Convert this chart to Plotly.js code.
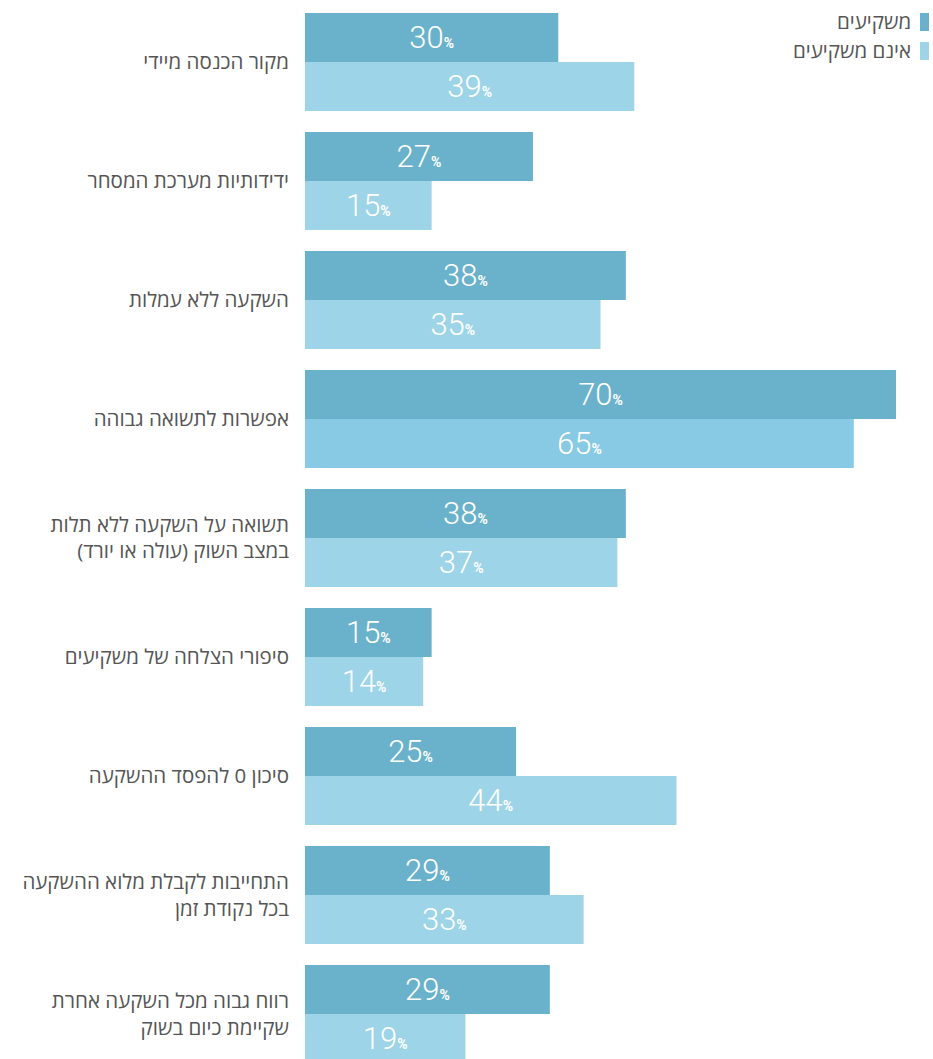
<!DOCTYPE html>
<html>
<head>
<meta charset="utf-8">
<script src="https://cdn.plot.ly/plotly-3.0.1.min.js"></script>
<style>html,body{margin:0;padding:0;background:#fff;}#chart{width:933px;height:1059px;}</style>
</head>
<body>
<div id="chart"></div>
<script>
// ---- data ----
const categories = [
  "מקור הכנסה מיידי",
  "ידידותיות מערכת המסחר",
  "השקעה ללא עמלות",
  "אפשרות לתשואה גבוהה",
  "תשואה על השקעה ללא תלות<br>במצב השוק (עולה או יורד)",
  "סיפורי הצלחה של משקיעים",
  "סיכון 0 להפסד ההשקעה",
  "התחייבות לקבלת מלוא ההשקעה<br>בכל נקודת זמן",
  "רווח גבוה מכל השקעה אחרת<br>שקיימת כיום בשוק"
];
const investors = [30, 27, 38, 70, 38, 15, 25, 29, 29];
const nonInvestors = [39, 15, 35, 65, 37, 14, 44, 33, 19];
const seriesNames = ["משקיעים", "אינם משקיעים"];

const darkColor = "#6ab2cb";
const lightColor = "#9dd4e8";
const lightColorHighlight = "#88c9e3";

const RLM = "\u200F";
const tickText = categories.map(c => c.split("<br>").map(l => RLM + l + RLM).join("<br>"));

const pctTemplate = '%{x}<span style="font-size:14px"><b>%</b></span>';
const numFont = {family: "Roboto, Lato, sans-serif", size: 31, color: "#ffffff", weight: 300};

const lightColors = nonInvestors.map((v, i) => i === 3 ? lightColorHighlight : lightColor);

const traces = [
  {
    type: "bar", orientation: "h", name: seriesNames[0],
    y: categories, x: investors,
    marker: {color: darkColor},
    texttemplate: pctTemplate, textposition: "inside", insidetextanchor: "middle",
    textangle: 0, constraintext: "none", insidetextfont: numFont,
    hoverinfo: "skip"
  },
  {
    type: "bar", orientation: "h", name: seriesNames[1],
    y: categories, x: nonInvestors,
    marker: {color: lightColors},
    texttemplate: pctTemplate, textposition: "inside", insidetextanchor: "middle",
    textangle: 0, constraintext: "none", insidetextfont: numFont,
    hoverinfo: "skip"
  }
];

const labelFont = {family: "'Open Sans', 'Liberation Sans', sans-serif", size: 20.5, color: "#555555"};

const layout = {
  width: 933, height: 1059,
  margin: {l: 305, r: 37, t: 0, b: 0, pad: 0},
  paper_bgcolor: "#ffffff", plot_bgcolor: "#ffffff",
  barmode: "group", bargap: 0.1765, bargroupgap: 0,
  showlegend: false,
  xaxis: {range: [0, 70], visible: false, showgrid: false, zeroline: false, fixedrange: true},
  yaxis: {
    type: "category", categoryorder: "array", categoryarray: categories,
    range: [8.378, -0.521],
    tickvals: categories, ticktext: tickText,
    showgrid: false, zeroline: false, showline: false, ticks: "",
    ticklabelstandoff: 15,
    tickfont: labelFont,
    fixedrange: true
  },
  annotations: [
    {xref: "paper", yref: "paper", x: 1.0288, y: 1 - 21/1059, xanchor: "right", yanchor: "middle",
     text: RLM + seriesNames[0] + RLM, showarrow: false, font: labelFont},
    {xref: "paper", yref: "paper", x: 1.0288, y: 1 - 50/1059, xanchor: "right", yanchor: "middle",
     text: RLM + seriesNames[1] + RLM, showarrow: false, font: labelFont}
  ],
  shapes: [
    {type: "rect", xref: "paper", yref: "paper", x0: 1.0406, x1: 1.0558, y0: 1 - 31/1059, y1: 1 - 13/1059,
     fillcolor: darkColor, line: {width: 0}},
    {type: "rect", xref: "paper", yref: "paper", x0: 1.0406, x1: 1.0558, y0: 1 - 60/1059, y1: 1 - 42/1059,
     fillcolor: lightColor, line: {width: 0}}
  ]
};

Plotly.newPlot("chart", traces, layout, {displayModeBar: false, staticPlot: true});
</script>
</body>
</html>
